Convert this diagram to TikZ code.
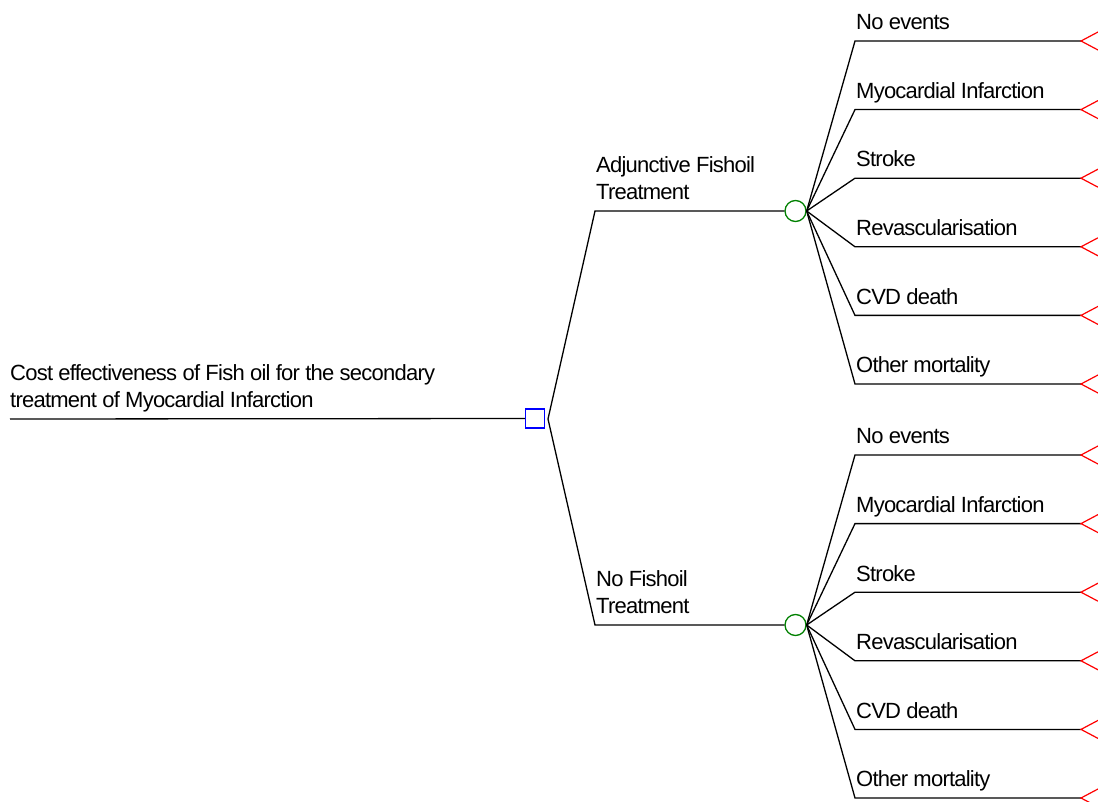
\documentclass[tikz,border=0pt]{standalone}
\usepackage{fontspec}
\setmainfont[LetterSpace=-3.5]{Liberation Sans}
\usepackage{tikz}
\usetikzlibrary{positioning}

\begin{document}
\begin{tikzpicture}[
    x=1pt, y=-1pt,
    font=\fontsize{22}{27}\selectfont,
    edge/.style={line width=1.3pt},
    decision/.style={rectangle, draw=blue, line width=1.3pt, minimum size=19pt, inner sep=0pt},
    chance/.style={circle, draw=green!50!black, line width=1.3pt, minimum size=21pt, inner sep=0pt},
    term/.style={draw=red, line width=1.2pt},
    lbl/.style={anchor=south west, inner sep=0pt, text depth=0pt, align=left}
]
\useasboundingbox (0,0) rectangle (1098,802);

% decision
\coordinate (root) at (10,419);
\node[decision] (dec) at (535,418.5) {};
\draw[edge] (root) -- (dec);
\node[lbl] (rootlbl) at (10,408) {Cost effectiveness of Fish oil for the secondary\\treatment of Myocardial Infarction};

% treatment branches
\coordinate (decfan) at (548,419);
\coordinate (fishbr) at (595,211);
\coordinate (nofishbr) at (595,625);
\node[chance] (fish) at (795.5,211) {};
\node[chance] (nofish) at (795.5,625) {};
\draw[edge] (decfan) -- (fishbr) -- (fish);
\draw[edge] (decfan) -- (nofishbr) -- (nofish);
\node[lbl] (fishlbl) at (596,200) {Adjunctive Fishoil\\Treatment};
\node[lbl] (nofishlbl) at (596,614) {No Fishoil\\Treatment};

% outcomes
\foreach \br/\ystart in {fish/41, nofish/455} {
  \foreach \lab [count=\i] in {No events, Myocardial Infarction, Stroke, Revascularisation, CVD death, Other mortality} {
    \pgfmathsetmacro\yy{\ystart+68.6*(\i-1)}
    \coordinate (\br o\i) at (855,\yy);
    \coordinate (\br t\i) at (1081,\yy);
    \draw[edge] (\br.east) -- (\br o\i) -- (\br t\i);
    \draw[term] ([shift={(17,-9)}]\br t\i) -- (\br t\i) -- ([shift={(17,9)}]\br t\i);
    \node[lbl] (\br lbl\i) at (856,\yy-11) {\lab};
  }
}
\end{tikzpicture}
\end{document}
